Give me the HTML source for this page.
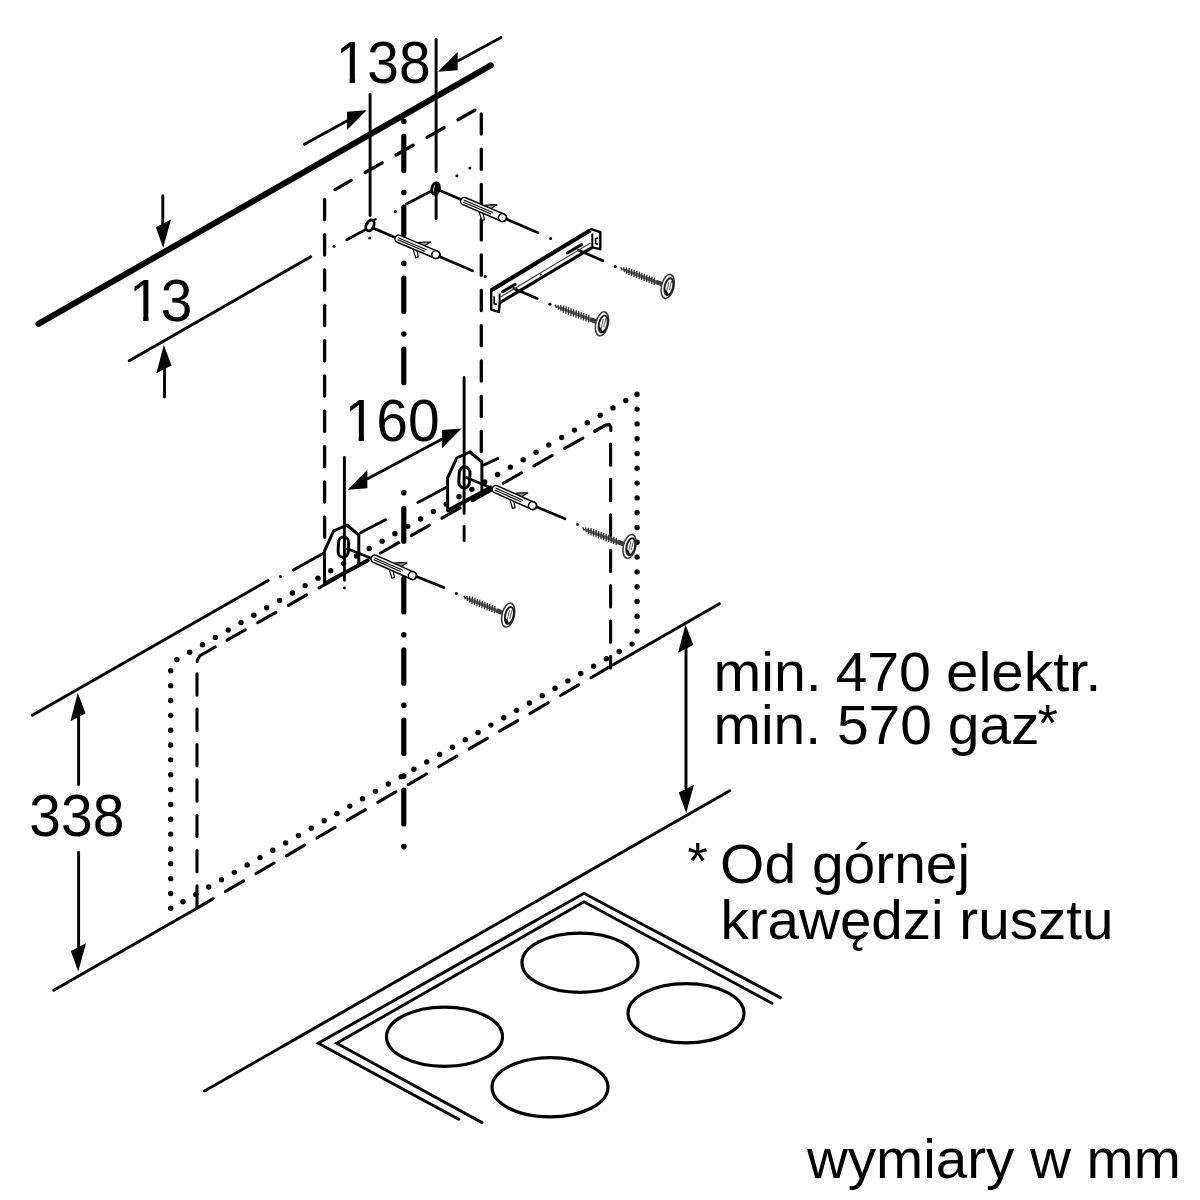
<!DOCTYPE html>
<html lang="pl"><head><meta charset="utf-8"><title>wymiary w mm</title>
<style>html,body{margin:0;padding:0;background:#fff}svg{display:block}text{font-family:"Liberation Sans",sans-serif;fill:#000}</style></head><body>
<svg width="1200" height="1200" viewBox="0 0 1200 1200">
<defs><filter id="soft" filterUnits="userSpaceOnUse" x="0" y="0" width="1200" height="1200"><feGaussianBlur stdDeviation="0.6"/></filter></defs>
<rect width="1200" height="1200" fill="#fff"/>
<g filter="url(#soft)">
<line x1="38.4" y1="323.8" x2="490.8" y2="65.3" stroke="#000" stroke-width="6" stroke-linecap="round"/>
<line x1="129.26" y1="360.78" x2="310.74" y2="256.72" stroke="#000" stroke-width="2.9" stroke-linecap="round"/>
<line x1="162.8" y1="195.8" x2="162.8" y2="226" stroke="#000" stroke-width="2.9" stroke-linecap="round"/>
<path d="M163.2 247.8 L155.8 227.3 L171 219.5 Z" fill="#000"/>
<line x1="164.5" y1="397" x2="164.5" y2="367" stroke="#000" stroke-width="2.9" stroke-linecap="round"/>
<path d="M163.8 344.9 L156.4 373.2 L171.6 365.4 Z" fill="#000"/>
<text transform="translate(160.8 320.6) scale(0.966 1)" font-size="59" text-anchor="middle">13</text>
<text transform="translate(383.1 83.4) scale(0.966 1)" font-size="59" text-anchor="middle">138</text>
<line x1="370.1" y1="94.25" x2="370.1" y2="215.55" stroke="#000" stroke-width="2.9" stroke-linecap="round"/>
<line x1="436.1" y1="39.25" x2="436.1" y2="171.55" stroke="#000" stroke-width="2.9" stroke-linecap="round"/>
<line x1="436.1" y1="193.45" x2="436.1" y2="218.55" stroke="#000" stroke-width="2.9" stroke-linecap="round"/>
<path d="M366.6 110.2 L347 111.68 L347 130.08 Z" fill="#000"/>
<line x1="304.43" y1="144.33" x2="346.77" y2="121.06" stroke="#000" stroke-width="2.8" stroke-linecap="round"/>
<path d="M438 71.8 L457.6 51.92 L457.6 70.32 Z" fill="#000"/>
<line x1="500.97" y1="37.57" x2="457.83" y2="60.95" stroke="#000" stroke-width="2.8" stroke-linecap="round"/>
<line x1="475.02" y1="110.14" x2="457.98" y2="119.81" stroke="#000" stroke-width="3.3" stroke-linecap="round"/>
<line x1="444.06" y1="127.71" x2="427.01" y2="137.38" stroke="#000" stroke-width="3.3" stroke-linecap="round"/>
<line x1="413.1" y1="145.28" x2="396.05" y2="154.95" stroke="#000" stroke-width="3.3" stroke-linecap="round"/>
<line x1="382.14" y1="162.85" x2="365.09" y2="172.52" stroke="#000" stroke-width="3.3" stroke-linecap="round"/>
<line x1="351.17" y1="180.42" x2="335" y2="189.6" stroke="#000" stroke-width="3.3" stroke-linecap="round"/>
<line x1="481.3" y1="113.8" x2="481.3" y2="134" stroke="#000" stroke-width="3.3" stroke-linecap="round"/>
<line x1="481.3" y1="149.1" x2="481.3" y2="169.3" stroke="#000" stroke-width="3.3" stroke-linecap="round"/>
<line x1="481.3" y1="184.4" x2="481.3" y2="204.6" stroke="#000" stroke-width="3.3" stroke-linecap="round"/>
<line x1="481.3" y1="219.7" x2="481.3" y2="239.9" stroke="#000" stroke-width="3.3" stroke-linecap="round"/>
<line x1="481.3" y1="255" x2="481.3" y2="275.2" stroke="#000" stroke-width="3.3" stroke-linecap="round"/>
<line x1="481.3" y1="290.3" x2="481.3" y2="310.5" stroke="#000" stroke-width="3.3" stroke-linecap="round"/>
<line x1="481.3" y1="325.6" x2="481.3" y2="345.8" stroke="#000" stroke-width="3.3" stroke-linecap="round"/>
<line x1="481.3" y1="360.9" x2="481.3" y2="381.1" stroke="#000" stroke-width="3.3" stroke-linecap="round"/>
<line x1="481.3" y1="396.2" x2="481.3" y2="416.4" stroke="#000" stroke-width="3.3" stroke-linecap="round"/>
<line x1="481.3" y1="431.5" x2="481.3" y2="451.5" stroke="#000" stroke-width="3.3" stroke-linecap="round"/>
<line x1="324.6" y1="199.4" x2="324.6" y2="219.6" stroke="#000" stroke-width="3.3" stroke-linecap="round"/>
<line x1="324.6" y1="234.7" x2="324.6" y2="254.9" stroke="#000" stroke-width="3.3" stroke-linecap="round"/>
<line x1="324.6" y1="270" x2="324.6" y2="290.2" stroke="#000" stroke-width="3.3" stroke-linecap="round"/>
<line x1="324.6" y1="305.3" x2="324.6" y2="325.5" stroke="#000" stroke-width="3.3" stroke-linecap="round"/>
<line x1="324.6" y1="340.6" x2="324.6" y2="360.8" stroke="#000" stroke-width="3.3" stroke-linecap="round"/>
<line x1="324.6" y1="375.9" x2="324.6" y2="396.1" stroke="#000" stroke-width="3.3" stroke-linecap="round"/>
<line x1="324.6" y1="411.2" x2="324.6" y2="431.4" stroke="#000" stroke-width="3.3" stroke-linecap="round"/>
<line x1="324.6" y1="446.5" x2="324.6" y2="466.7" stroke="#000" stroke-width="3.3" stroke-linecap="round"/>
<line x1="324.6" y1="481.8" x2="324.6" y2="502" stroke="#000" stroke-width="3.3" stroke-linecap="round"/>
<line x1="324.6" y1="517.1" x2="324.6" y2="537.3" stroke="#000" stroke-width="3.3" stroke-linecap="round"/>
<line x1="403.8" y1="136.4" x2="403.8" y2="170.6" stroke="#000" stroke-width="5.2" stroke-linecap="round"/>
<line x1="403.8" y1="207" x2="403.8" y2="234.4" stroke="#000" stroke-width="5.2" stroke-linecap="round"/>
<line x1="403.8" y1="278.1" x2="403.8" y2="311.4" stroke="#000" stroke-width="5.2" stroke-linecap="round"/>
<line x1="403.8" y1="349.2" x2="403.8" y2="382.7" stroke="#000" stroke-width="5.2" stroke-linecap="round"/>
<line x1="403.8" y1="508.6" x2="403.8" y2="541.2" stroke="#000" stroke-width="5.2" stroke-linecap="round"/>
<line x1="403.8" y1="578.4" x2="403.8" y2="611.9" stroke="#000" stroke-width="5.2" stroke-linecap="round"/>
<line x1="403.8" y1="649.8" x2="403.8" y2="683.2" stroke="#000" stroke-width="5.2" stroke-linecap="round"/>
<line x1="403.8" y1="720" x2="403.8" y2="753.5" stroke="#000" stroke-width="5.2" stroke-linecap="round"/>
<line x1="403.8" y1="790.2" x2="403.8" y2="824" stroke="#000" stroke-width="5.2" stroke-linecap="round"/>
<circle cx="403.8" cy="121.3" r="2.8" fill="#000"/>
<circle cx="403.8" cy="192.5" r="2.8" fill="#000"/>
<circle cx="403.8" cy="263.4" r="2.8" fill="#000"/>
<circle cx="403.8" cy="334" r="2.8" fill="#000"/>
<circle cx="403.8" cy="492.7" r="2.8" fill="#000"/>
<circle cx="403.8" cy="634.8" r="2.8" fill="#000"/>
<circle cx="403.8" cy="705.3" r="2.8" fill="#000"/>
<circle cx="403.8" cy="776.1" r="2.8" fill="#000"/>
<circle cx="403.8" cy="846.6" r="2.8" fill="#000"/>
<text transform="translate(713.5 691.2) scale(1.036 1)" font-size="55.3" xml:space="preserve"><tspan x="0">min. </tspan><tspan x="117.66">470 </tspan><tspan x="224.42" textLength="150.1" lengthAdjust="spacingAndGlyphs">elektr.</tspan></text>
<text transform="translate(713.5 743.9) scale(1.03 1)" font-size="55.3" xml:space="preserve"><tspan x="0">min. 570 gaz</tspan><tspan x="314.66" y="-3.2" font-size="50.88">*</tspan></text>
<text transform="translate(720.1 882.6) scale(1.03 1)" font-size="55.3" xml:space="preserve"><tspan x="-31.75" y="-4.1" font-size="50.88">* </tspan><tspan x="0" y="0">Od górnej</tspan></text>
<text transform="translate(720.5 939) scale(1.023 1)" font-size="55.3" text-anchor="start">krawędzi rusztu</text>
<text transform="translate(807 1178.4) scale(1.023 1)" font-size="55.3" text-anchor="start">wymiary w mm</text>
<text transform="translate(76.9 835.5) scale(0.966 1)" font-size="59" text-anchor="middle">338</text>
<line x1="32.26" y1="715.28" x2="268.14" y2="580.52" stroke="#000" stroke-width="2.9" stroke-linecap="round"/>
<line x1="53.76" y1="990.28" x2="197.34" y2="907.92" stroke="#000" stroke-width="2.9" stroke-linecap="round"/>
<line x1="78.6" y1="784.55" x2="78.6" y2="717.45" stroke="#000" stroke-width="2.9" stroke-linecap="round"/>
<path d="M77.8 693 L70.4 721.3 L85.6 713.5 Z" fill="#000"/>
<line x1="78.6" y1="852.45" x2="78.6" y2="946.55" stroke="#000" stroke-width="2.9" stroke-linecap="round"/>
<path d="M78.2 971.6 L70.8 951.1 L86 943.3 Z" fill="#000"/>
<line x1="719.44" y1="603.72" x2="612.76" y2="664.98" stroke="#000" stroke-width="2.9" stroke-linecap="round"/>
<line x1="729.74" y1="790.72" x2="204.56" y2="1090.98" stroke="#000" stroke-width="2.9" stroke-linecap="round"/>
<line x1="686" y1="647.45" x2="686" y2="788.55" stroke="#000" stroke-width="2.9" stroke-linecap="round"/>
<path d="M685.5 624.4 L678.1 652.7 L693.3 644.9 Z" fill="#000"/>
<path d="M686.2 813 L678.8 792.5 L694 784.7 Z" fill="#000"/>
<circle cx="637" cy="394.3" r="2.7" fill="#000"/>
<circle cx="625.8" cy="400.5" r="2.7" fill="#000"/>
<circle cx="612.97" cy="407.9" r="2.7" fill="#000"/>
<circle cx="600.15" cy="415.31" r="2.7" fill="#000"/>
<circle cx="587.32" cy="422.71" r="2.7" fill="#000"/>
<circle cx="574.5" cy="430.11" r="2.7" fill="#000"/>
<circle cx="561.67" cy="437.51" r="2.7" fill="#000"/>
<circle cx="548.84" cy="444.92" r="2.7" fill="#000"/>
<circle cx="536.02" cy="452.32" r="2.7" fill="#000"/>
<circle cx="523.19" cy="459.72" r="2.7" fill="#000"/>
<circle cx="510.37" cy="467.13" r="2.7" fill="#000"/>
<circle cx="497.54" cy="474.53" r="2.7" fill="#000"/>
<circle cx="484.71" cy="481.93" r="2.7" fill="#000"/>
<circle cx="471.89" cy="489.34" r="2.7" fill="#000"/>
<circle cx="459.06" cy="496.74" r="2.7" fill="#000"/>
<circle cx="446.24" cy="504.14" r="2.7" fill="#000"/>
<circle cx="433.41" cy="511.54" r="2.7" fill="#000"/>
<circle cx="420.58" cy="518.95" r="2.7" fill="#000"/>
<circle cx="407.76" cy="526.35" r="2.7" fill="#000"/>
<circle cx="394.93" cy="533.75" r="2.7" fill="#000"/>
<circle cx="382.11" cy="541.16" r="2.7" fill="#000"/>
<circle cx="369.28" cy="548.56" r="2.7" fill="#000"/>
<circle cx="356.45" cy="555.96" r="2.7" fill="#000"/>
<circle cx="343.63" cy="563.37" r="2.7" fill="#000"/>
<circle cx="330.8" cy="570.77" r="2.7" fill="#000"/>
<circle cx="317.98" cy="578.17" r="2.7" fill="#000"/>
<circle cx="305.15" cy="585.58" r="2.7" fill="#000"/>
<circle cx="292.32" cy="592.98" r="2.7" fill="#000"/>
<circle cx="279.5" cy="600.38" r="2.7" fill="#000"/>
<circle cx="266.67" cy="607.78" r="2.7" fill="#000"/>
<circle cx="253.85" cy="615.19" r="2.7" fill="#000"/>
<circle cx="241.02" cy="622.59" r="2.7" fill="#000"/>
<circle cx="228.19" cy="629.99" r="2.7" fill="#000"/>
<circle cx="215.37" cy="637.4" r="2.7" fill="#000"/>
<circle cx="202.54" cy="644.8" r="2.7" fill="#000"/>
<circle cx="189.72" cy="652.2" r="2.7" fill="#000"/>
<circle cx="176.89" cy="659.61" r="2.7" fill="#000"/>
<circle cx="170.7" cy="670.8" r="2.7" fill="#000"/>
<circle cx="170.7" cy="685.64" r="2.7" fill="#000"/>
<circle cx="170.7" cy="700.49" r="2.7" fill="#000"/>
<circle cx="170.7" cy="715.33" r="2.7" fill="#000"/>
<circle cx="170.7" cy="730.18" r="2.7" fill="#000"/>
<circle cx="170.7" cy="745.02" r="2.7" fill="#000"/>
<circle cx="170.7" cy="759.87" r="2.7" fill="#000"/>
<circle cx="170.7" cy="774.71" r="2.7" fill="#000"/>
<circle cx="170.7" cy="789.56" r="2.7" fill="#000"/>
<circle cx="170.7" cy="804.4" r="2.7" fill="#000"/>
<circle cx="170.7" cy="819.25" r="2.7" fill="#000"/>
<circle cx="170.7" cy="834.1" r="2.7" fill="#000"/>
<circle cx="170.7" cy="848.94" r="2.7" fill="#000"/>
<circle cx="170.7" cy="863.78" r="2.7" fill="#000"/>
<circle cx="170.7" cy="878.63" r="2.7" fill="#000"/>
<circle cx="170.7" cy="893.47" r="2.7" fill="#000"/>
<circle cx="170.7" cy="908.32" r="2.7" fill="#000"/>
<circle cx="183" cy="901.8" r="2.7" fill="#000"/>
<circle cx="195.83" cy="894.44" r="2.7" fill="#000"/>
<circle cx="208.66" cy="887.07" r="2.7" fill="#000"/>
<circle cx="221.49" cy="879.71" r="2.7" fill="#000"/>
<circle cx="234.32" cy="872.35" r="2.7" fill="#000"/>
<circle cx="247.15" cy="864.98" r="2.7" fill="#000"/>
<circle cx="259.98" cy="857.62" r="2.7" fill="#000"/>
<circle cx="272.81" cy="850.26" r="2.7" fill="#000"/>
<circle cx="285.64" cy="842.9" r="2.7" fill="#000"/>
<circle cx="298.47" cy="835.53" r="2.7" fill="#000"/>
<circle cx="311.3" cy="828.17" r="2.7" fill="#000"/>
<circle cx="324.13" cy="820.81" r="2.7" fill="#000"/>
<circle cx="336.96" cy="813.44" r="2.7" fill="#000"/>
<circle cx="349.79" cy="806.08" r="2.7" fill="#000"/>
<circle cx="362.62" cy="798.72" r="2.7" fill="#000"/>
<circle cx="375.45" cy="791.35" r="2.7" fill="#000"/>
<circle cx="388.28" cy="783.99" r="2.7" fill="#000"/>
<circle cx="401.11" cy="776.63" r="2.7" fill="#000"/>
<circle cx="413.94" cy="769.27" r="2.7" fill="#000"/>
<circle cx="426.77" cy="761.9" r="2.7" fill="#000"/>
<circle cx="439.6" cy="754.54" r="2.7" fill="#000"/>
<circle cx="452.43" cy="747.18" r="2.7" fill="#000"/>
<circle cx="465.26" cy="739.81" r="2.7" fill="#000"/>
<circle cx="478.09" cy="732.45" r="2.7" fill="#000"/>
<circle cx="490.92" cy="725.09" r="2.7" fill="#000"/>
<circle cx="503.75" cy="717.72" r="2.7" fill="#000"/>
<circle cx="516.58" cy="710.36" r="2.7" fill="#000"/>
<circle cx="529.41" cy="703" r="2.7" fill="#000"/>
<circle cx="542.24" cy="695.64" r="2.7" fill="#000"/>
<circle cx="555.07" cy="688.27" r="2.7" fill="#000"/>
<circle cx="567.9" cy="680.91" r="2.7" fill="#000"/>
<circle cx="580.73" cy="673.55" r="2.7" fill="#000"/>
<circle cx="593.56" cy="666.18" r="2.7" fill="#000"/>
<circle cx="606.39" cy="658.82" r="2.7" fill="#000"/>
<circle cx="619.22" cy="651.46" r="2.7" fill="#000"/>
<circle cx="632.05" cy="644.09" r="2.7" fill="#000"/>
<circle cx="637.1" cy="409.1" r="2.7" fill="#000"/>
<circle cx="637.1" cy="423.9" r="2.7" fill="#000"/>
<circle cx="637.1" cy="438.7" r="2.7" fill="#000"/>
<circle cx="637.1" cy="453.5" r="2.7" fill="#000"/>
<circle cx="637.1" cy="468.3" r="2.7" fill="#000"/>
<circle cx="637.1" cy="483.1" r="2.7" fill="#000"/>
<circle cx="637.1" cy="497.9" r="2.7" fill="#000"/>
<circle cx="637.1" cy="512.7" r="2.7" fill="#000"/>
<circle cx="637.1" cy="527.5" r="2.7" fill="#000"/>
<circle cx="637.1" cy="542.3" r="2.7" fill="#000"/>
<circle cx="637.1" cy="557.1" r="2.7" fill="#000"/>
<circle cx="637.1" cy="571.9" r="2.7" fill="#000"/>
<circle cx="637.1" cy="586.7" r="2.7" fill="#000"/>
<circle cx="637.1" cy="601.5" r="2.7" fill="#000"/>
<circle cx="637.1" cy="616.3" r="2.7" fill="#000"/>
<circle cx="637.1" cy="631.1" r="2.7" fill="#000"/>
<line x1="197" y1="673.8" x2="197" y2="695.1" stroke="#000" stroke-width="3.1" stroke-linecap="round"/>
<line x1="197" y1="709.15" x2="197" y2="730.45" stroke="#000" stroke-width="3.1" stroke-linecap="round"/>
<line x1="197" y1="744.5" x2="197" y2="765.8" stroke="#000" stroke-width="3.1" stroke-linecap="round"/>
<line x1="197" y1="779.85" x2="197" y2="801.15" stroke="#000" stroke-width="3.1" stroke-linecap="round"/>
<line x1="197" y1="815.2" x2="197" y2="836.5" stroke="#000" stroke-width="3.1" stroke-linecap="round"/>
<line x1="197" y1="850.55" x2="197" y2="871.85" stroke="#000" stroke-width="3.1" stroke-linecap="round"/>
<line x1="197" y1="885.9" x2="197" y2="907.2" stroke="#000" stroke-width="3.1" stroke-linecap="round"/>
<path d="M197.2 661.6 L198 658.4 L200.3 655.5 L215.2 647" fill="none" stroke="#000" stroke-width="3.1" stroke-linejoin="round" stroke-linecap="round"/>
<line x1="227.02" y1="640.14" x2="245.2" y2="629.82" stroke="#000" stroke-width="3.1" stroke-linecap="round"/>
<line x1="257.72" y1="622.71" x2="275.89" y2="612.39" stroke="#000" stroke-width="3.1" stroke-linecap="round"/>
<line x1="288.41" y1="605.28" x2="306.59" y2="594.96" stroke="#000" stroke-width="3.1" stroke-linecap="round"/>
<line x1="319.11" y1="587.85" x2="337.28" y2="577.53" stroke="#000" stroke-width="3.1" stroke-linecap="round"/>
<line x1="349.81" y1="570.41" x2="367.98" y2="560.09" stroke="#000" stroke-width="3.1" stroke-linecap="round"/>
<line x1="380.5" y1="552.98" x2="398.68" y2="542.66" stroke="#000" stroke-width="3.1" stroke-linecap="round"/>
<line x1="411.2" y1="535.55" x2="429.37" y2="525.23" stroke="#000" stroke-width="3.1" stroke-linecap="round"/>
<line x1="441.89" y1="518.12" x2="460.07" y2="507.8" stroke="#000" stroke-width="3.1" stroke-linecap="round"/>
<line x1="472.59" y1="500.69" x2="490.76" y2="490.37" stroke="#000" stroke-width="3.1" stroke-linecap="round"/>
<line x1="503.29" y1="483.26" x2="521.46" y2="472.94" stroke="#000" stroke-width="3.1" stroke-linecap="round"/>
<line x1="533.98" y1="465.83" x2="552.16" y2="455.51" stroke="#000" stroke-width="3.1" stroke-linecap="round"/>
<line x1="564.68" y1="448.4" x2="582.85" y2="438.08" stroke="#000" stroke-width="3.1" stroke-linecap="round"/>
<line x1="595.37" y1="430.97" x2="605" y2="425.5" stroke="#000" stroke-width="3.1" stroke-linecap="round"/>
<path d="M594.6 431.3 L605.6 425 L609.4 424.6 L610.8 427.2 L610.8 430.5" fill="none" stroke="#000" stroke-width="3.1" stroke-linejoin="round" stroke-linecap="round"/>
<line x1="610.6" y1="444" x2="610.6" y2="465.3" stroke="#000" stroke-width="3.1" stroke-linecap="round"/>
<line x1="610.6" y1="479.4" x2="610.6" y2="500.7" stroke="#000" stroke-width="3.1" stroke-linecap="round"/>
<line x1="610.6" y1="514.8" x2="610.6" y2="536.1" stroke="#000" stroke-width="3.1" stroke-linecap="round"/>
<line x1="610.6" y1="550.2" x2="610.6" y2="571.5" stroke="#000" stroke-width="3.1" stroke-linecap="round"/>
<line x1="610.6" y1="585.6" x2="610.6" y2="606.9" stroke="#000" stroke-width="3.1" stroke-linecap="round"/>
<line x1="610.6" y1="621" x2="610.6" y2="642.3" stroke="#000" stroke-width="3.1" stroke-linecap="round"/>
<line x1="610.6" y1="656.4" x2="610.6" y2="668" stroke="#000" stroke-width="3.1" stroke-linecap="round"/>
<line x1="609.11" y1="667.11" x2="590.98" y2="677.72" stroke="#000" stroke-width="3.1" stroke-linecap="round"/>
<line x1="578.66" y1="684.92" x2="560.53" y2="695.53" stroke="#000" stroke-width="3.1" stroke-linecap="round"/>
<line x1="548.2" y1="702.73" x2="530.07" y2="713.34" stroke="#000" stroke-width="3.1" stroke-linecap="round"/>
<line x1="517.75" y1="720.54" x2="499.62" y2="731.15" stroke="#000" stroke-width="3.1" stroke-linecap="round"/>
<line x1="487.29" y1="738.35" x2="469.16" y2="748.96" stroke="#000" stroke-width="3.1" stroke-linecap="round"/>
<line x1="456.84" y1="756.16" x2="438.71" y2="766.77" stroke="#000" stroke-width="3.1" stroke-linecap="round"/>
<line x1="426.38" y1="773.97" x2="408.26" y2="784.58" stroke="#000" stroke-width="3.1" stroke-linecap="round"/>
<line x1="395.93" y1="791.78" x2="377.8" y2="802.39" stroke="#000" stroke-width="3.1" stroke-linecap="round"/>
<line x1="365.47" y1="809.59" x2="347.35" y2="820.2" stroke="#000" stroke-width="3.1" stroke-linecap="round"/>
<line x1="335.02" y1="827.4" x2="316.89" y2="838.01" stroke="#000" stroke-width="3.1" stroke-linecap="round"/>
<line x1="304.56" y1="845.21" x2="286.44" y2="855.82" stroke="#000" stroke-width="3.1" stroke-linecap="round"/>
<line x1="274.11" y1="863.02" x2="255.98" y2="873.63" stroke="#000" stroke-width="3.1" stroke-linecap="round"/>
<line x1="243.66" y1="880.83" x2="225.53" y2="891.44" stroke="#000" stroke-width="3.1" stroke-linecap="round"/>
<line x1="213.2" y1="898.64" x2="198.4" y2="907.3" stroke="#000" stroke-width="3.1" stroke-linecap="round"/>
<path d="M458.72 1119.31 L318.3 1043.3 L584 893.3 L780.42 997.62" fill="none" stroke="#000" stroke-width="2.9" stroke-linejoin="miter" stroke-linecap="round"/>
<path d="M482.03 1122.61 L336.7 1043.3 L584 901.8 L772.02 1003.31" fill="none" stroke="#000" stroke-width="2.9" stroke-linejoin="miter" stroke-linecap="round"/>
<ellipse cx="580" cy="962.7" rx="58" ry="29.6" fill="none" stroke="#000" stroke-width="3.2"/>
<ellipse cx="686" cy="1013.3" rx="58" ry="29.6" fill="none" stroke="#000" stroke-width="3.2"/>
<ellipse cx="444.5" cy="1036.7" rx="58" ry="29.6" fill="none" stroke="#000" stroke-width="3.2"/>
<ellipse cx="550" cy="1087.3" rx="58" ry="29.6" fill="none" stroke="#000" stroke-width="3.2"/>
<circle cx="334" cy="246.3" r="1.5" fill="#000"/>
<line x1="346.8" y1="239.8" x2="365.5" y2="229.6" stroke="#000" stroke-width="2.7" stroke-linecap="round"/>
<line x1="431.5" y1="191" x2="406.3" y2="204" stroke="#000" stroke-width="2.7" stroke-linecap="round"/>
<circle cx="395.3" cy="211.4" r="1.5" fill="#000"/>
<circle cx="456.9" cy="175.8" r="1.5" fill="#000"/>
<circle cx="469.8" cy="168.1" r="1.5" fill="#000"/>
<circle cx="369.7" cy="238.2" r="1.4" fill="#000"/>
<line x1="373" y1="227.9" x2="472.5" y2="270.74" stroke="#000" stroke-width="2.7" stroke-linecap="round"/>
<circle cx="485.2" cy="276.4" r="1.5" fill="#000"/>
<line x1="513.8" y1="288.4" x2="537.2" y2="298.6" stroke="#000" stroke-width="2.7" stroke-linecap="round"/>
<circle cx="549.9" cy="304.2" r="1.6" fill="#000"/>
<line x1="440" y1="190.6" x2="538" y2="232.8" stroke="#000" stroke-width="2.7" stroke-linecap="round"/>
<circle cx="550.6" cy="238.4" r="1.5" fill="#000"/>
<line x1="578.6" y1="250.2" x2="603" y2="260.8" stroke="#000" stroke-width="2.7" stroke-linecap="round"/>
<circle cx="615.4" cy="266.6" r="1.6" fill="#000"/>
<g transform="translate(370 225.4) rotate(26)">
<ellipse cx="0" cy="0" rx="3.7" ry="5.7" fill="#fff" stroke="#000" stroke-width="2.9"/>
</g>
<line x1="372.6" y1="220.4" x2="375.6" y2="219.2" stroke="#000" stroke-width="2.2" stroke-linecap="round"/>
<g transform="translate(435.6 188.6) rotate(12)">
<ellipse cx="0" cy="0" rx="3.7" ry="5.7" fill="#fff" stroke="#000" stroke-width="2.9"/>
<path d="M-0.4 -5.7 A3.7 5.7 0 0 1 -0.4 5.7 A0.93 5.7 0 0 1 -0.4 -5.7 Z" fill="#000"/>
</g>
<g transform="translate(395.2 237.4) rotate(22.92)">
<path d="M21.84 -3.2 L28.15 -6.9 L34.46 -9.6 L32.03 -6 L30.09 -3.2 Z" fill="#9c9c9c" stroke="#000" stroke-width="1.2" stroke-linejoin="round"/>
<path d="M20.38 3.2 L26.93 10.8 L28.88 9.0 L24.75 3.2 Z" fill="#fff" stroke="#000" stroke-width="1.2" stroke-linejoin="round"/>
<rect x="0" y="-3.75" width="48.53" height="7.5" rx="3.75" ry="3.75" fill="#fff" stroke="#000" stroke-width="1.5"/>
<line x1="3.5" y1="-0.9" x2="33" y2="-0.9" stroke="#000" stroke-width="1.1" stroke-linecap="round"/>
<line x1="3.5" y1="1.2" x2="32.03" y2="1.2" stroke="#000" stroke-width="1.1" stroke-linecap="round"/>
<circle cx="44.03" cy="0" r="3.9" fill="#fff" stroke="#000" stroke-width="1.5"/>
</g>
<g transform="translate(460.8 199.7) rotate(23.21)">
<path d="M22.38 -3.2 L28.84 -6.9 L35.31 -9.6 L32.82 -6 L30.83 -3.2 Z" fill="#9c9c9c" stroke="#000" stroke-width="1.2" stroke-linejoin="round"/>
<path d="M20.88 3.2 L27.6 10.8 L29.59 9.0 L25.36 3.2 Z" fill="#fff" stroke="#000" stroke-width="1.2" stroke-linejoin="round"/>
<rect x="0" y="-3.75" width="49.73" height="7.5" rx="3.75" ry="3.75" fill="#fff" stroke="#000" stroke-width="1.5"/>
<line x1="3.5" y1="-0.9" x2="33.81" y2="-0.9" stroke="#000" stroke-width="1.1" stroke-linecap="round"/>
<line x1="3.5" y1="1.2" x2="32.82" y2="1.2" stroke="#000" stroke-width="1.1" stroke-linecap="round"/>
<circle cx="45.23" cy="0" r="3.9" fill="#fff" stroke="#000" stroke-width="1.5"/>
</g>
<path d="M491.3 290.2 L590.4 230.2" fill="none" stroke="#000" stroke-width="4.2" stroke-linejoin="miter" stroke-linecap="butt"/>
<path d="M491.2 288.5 L491.2 309.6 L498.8 311.8 L499.8 302.6" fill="none" stroke="#000" stroke-width="2.4" stroke-linejoin="round" stroke-linecap="butt"/>
<path d="M499.8 302.6 L592.3 247.4" fill="none" stroke="#000" stroke-width="3.2" stroke-linejoin="miter" stroke-linecap="butt"/>
<path d="M592.3 247.4 L600.3 249.2 L600.3 232.2 L590.2 228.8" fill="none" stroke="#000" stroke-width="2.4" stroke-linejoin="round" stroke-linecap="butt"/>
<path d="M499.6 303.2 L499.6 293.5" fill="none" stroke="#000" stroke-width="2" stroke-linejoin="miter" stroke-linecap="butt"/>
<path d="M592.3 247.8 L592.3 233.5" fill="none" stroke="#000" stroke-width="2" stroke-linejoin="miter" stroke-linecap="butt"/>
<path d="M500.5 297 L590.5 243" fill="none" stroke="#444" stroke-width="1.1" stroke-linejoin="miter" stroke-linecap="butt"/>
<path d="M502.5 291.8 L515.2 284.4" fill="none" stroke="#000" stroke-width="3" stroke-linejoin="miter" stroke-linecap="round"/>
<path d="M567.2 253 L581.6 244.6" fill="none" stroke="#000" stroke-width="3" stroke-linejoin="miter" stroke-linecap="round"/>
<path d="M494.2 296.2 L494.2 303.8 L496.8 304.4" fill="none" stroke="#000" stroke-width="1.6" stroke-linejoin="miter" stroke-linecap="butt"/>
<path d="M598 238 L595.6 238.6 L595.6 243.6 L598 244.2" fill="none" stroke="#000" stroke-width="1.6" stroke-linejoin="miter" stroke-linecap="butt"/>
<circle cx="540.8" cy="274.6" r="1" fill="#000"/>
<g transform="translate(619.7 268) rotate(20.97)">
<path d="M0 0 L9 -1.6 L45.91 -1.8 L45.91 1.8 L9 1.6 Z" fill="#666" stroke="none"/>
<line x1="0.8" y1="-1.42" x2="3.2" y2="1.42" stroke="#2a2a2a" stroke-width="1.25"/>
<line x1="3.5" y1="-2.12" x2="5.9" y2="2.12" stroke="#2a2a2a" stroke-width="1.25"/>
<line x1="6.2" y1="-2.82" x2="8.6" y2="2.82" stroke="#2a2a2a" stroke-width="1.25"/>
<line x1="8.9" y1="-3.5" x2="11.3" y2="3.5" stroke="#2a2a2a" stroke-width="1.25"/>
<line x1="11.6" y1="-3.5" x2="14" y2="3.5" stroke="#2a2a2a" stroke-width="1.25"/>
<line x1="14.3" y1="-3.5" x2="16.7" y2="3.5" stroke="#2a2a2a" stroke-width="1.25"/>
<line x1="17" y1="-3.5" x2="19.4" y2="3.5" stroke="#2a2a2a" stroke-width="1.25"/>
<line x1="19.7" y1="-3.5" x2="22.1" y2="3.5" stroke="#2a2a2a" stroke-width="1.25"/>
<line x1="22.4" y1="-3.5" x2="24.8" y2="3.5" stroke="#2a2a2a" stroke-width="1.25"/>
<line x1="25.1" y1="-3.5" x2="27.5" y2="3.5" stroke="#2a2a2a" stroke-width="1.25"/>
<line x1="27.8" y1="-3.5" x2="30.2" y2="3.5" stroke="#2a2a2a" stroke-width="1.25"/>
<line x1="30.5" y1="-3.5" x2="32.9" y2="3.5" stroke="#2a2a2a" stroke-width="1.25"/>
<line x1="33.2" y1="-3.5" x2="35.6" y2="3.5" stroke="#2a2a2a" stroke-width="1.25"/>
<line x1="35.9" y1="-3.5" x2="38.3" y2="3.5" stroke="#2a2a2a" stroke-width="1.25"/>
<rect x="38.91" y="-2.3" width="7" height="4.6" fill="#3a3a3a"/>
</g>
<g transform="translate(667.7 286.4) rotate(13)">
<ellipse cx="0" cy="0" rx="6.2" ry="12.2" fill="#fff" stroke="#3a3a3a" stroke-width="1.5"/>
<ellipse cx="1.2" cy="0" rx="4.2" ry="8.6" fill="#fff" stroke="#1a1a1a" stroke-width="1.9"/>
<path d="M-2.6 3 L-0.6 8.2 L2.4 7.6 L0.2 4.4 Z" fill="#111"/>
<path d="M0.2 -5 L0.2 4.4 M2.6 -6.4 L2.4 3" stroke="#555" stroke-width="0.9" fill="none"/>
</g>
<g transform="translate(554 305.5) rotate(20.87)">
<path d="M0 0 L9 -1.6 L45.87 -1.8 L45.87 1.8 L9 1.6 Z" fill="#666" stroke="none"/>
<line x1="0.8" y1="-1.42" x2="3.2" y2="1.42" stroke="#2a2a2a" stroke-width="1.25"/>
<line x1="3.5" y1="-2.12" x2="5.9" y2="2.12" stroke="#2a2a2a" stroke-width="1.25"/>
<line x1="6.2" y1="-2.82" x2="8.6" y2="2.82" stroke="#2a2a2a" stroke-width="1.25"/>
<line x1="8.9" y1="-3.5" x2="11.3" y2="3.5" stroke="#2a2a2a" stroke-width="1.25"/>
<line x1="11.6" y1="-3.5" x2="14" y2="3.5" stroke="#2a2a2a" stroke-width="1.25"/>
<line x1="14.3" y1="-3.5" x2="16.7" y2="3.5" stroke="#2a2a2a" stroke-width="1.25"/>
<line x1="17" y1="-3.5" x2="19.4" y2="3.5" stroke="#2a2a2a" stroke-width="1.25"/>
<line x1="19.7" y1="-3.5" x2="22.1" y2="3.5" stroke="#2a2a2a" stroke-width="1.25"/>
<line x1="22.4" y1="-3.5" x2="24.8" y2="3.5" stroke="#2a2a2a" stroke-width="1.25"/>
<line x1="25.1" y1="-3.5" x2="27.5" y2="3.5" stroke="#2a2a2a" stroke-width="1.25"/>
<line x1="27.8" y1="-3.5" x2="30.2" y2="3.5" stroke="#2a2a2a" stroke-width="1.25"/>
<line x1="30.5" y1="-3.5" x2="32.9" y2="3.5" stroke="#2a2a2a" stroke-width="1.25"/>
<line x1="33.2" y1="-3.5" x2="35.6" y2="3.5" stroke="#2a2a2a" stroke-width="1.25"/>
<line x1="35.9" y1="-3.5" x2="38.3" y2="3.5" stroke="#2a2a2a" stroke-width="1.25"/>
<rect x="38.87" y="-2.3" width="7" height="4.6" fill="#3a3a3a"/>
</g>
<g transform="translate(602 323.8) rotate(13)">
<ellipse cx="0" cy="0" rx="6.2" ry="12.2" fill="#fff" stroke="#3a3a3a" stroke-width="1.5"/>
<ellipse cx="1.2" cy="0" rx="4.2" ry="8.6" fill="#fff" stroke="#1a1a1a" stroke-width="1.9"/>
<path d="M-2.6 3 L-0.6 8.2 L2.4 7.6 L0.2 4.4 Z" fill="#111"/>
<path d="M0.2 -5 L0.2 4.4 M2.6 -6.4 L2.4 3" stroke="#555" stroke-width="0.9" fill="none"/>
</g>
<text transform="translate(392.1 441) scale(0.966 1)" font-size="59" text-anchor="middle">160</text>
<circle cx="344.4" cy="588" r="1.4" fill="#000"/>
<line x1="464.1" y1="526.45" x2="464.1" y2="540.55" stroke="#000" stroke-width="2.9" stroke-linecap="round"/>
<path d="M347.8 489.7 L367.4 469.82 L367.4 488.22 Z" fill="#000"/>
<path d="M461.6 428.4 L442 429.88 L442 448.28 Z" fill="#000"/>
<line x1="367.68" y1="478.83" x2="441.72" y2="439.27" stroke="#000" stroke-width="2.9" stroke-linecap="round"/>
<circle cx="280.4" cy="576.6" r="1.5" fill="#000"/>
<line x1="293.27" y1="569.9" x2="323.53" y2="553.3" stroke="#000" stroke-width="2.9" stroke-linecap="round"/>
<line x1="360.49" y1="532.73" x2="385.51" y2="519.67" stroke="#000" stroke-width="2.9" stroke-linecap="round"/>
<line x1="417.88" y1="502.52" x2="446.52" y2="487.28" stroke="#000" stroke-width="2.9" stroke-linecap="round"/>
<line x1="483.12" y1="465.2" x2="497.68" y2="458.6" stroke="#000" stroke-width="2.9" stroke-linecap="round"/>
<path d="M324.6 582.6 L324.4 551.2 L333.6 531 L346.8 525 L358.8 535 L358.8 564.6" fill="none" stroke="#000" stroke-width="3" stroke-linejoin="round" stroke-linecap="round"/>
<path d="M324.9 583.4 L367.6 560.6" fill="none" stroke="#000" stroke-width="4" stroke-linejoin="miter" stroke-linecap="round"/>
<g transform="translate(343.4 547.2) rotate(3)"><rect x="-5.1" y="-10.1" width="10.2" height="20.2" rx="5.1" ry="5.86" fill="none" stroke="#000" stroke-width="3.0"/></g>
<path d="M447.7 509.6 L447.5 478.2 L456.7 458 L469.9 452 L481.9 462 L481.9 491.6" fill="none" stroke="#000" stroke-width="3" stroke-linejoin="round" stroke-linecap="round"/>
<path d="M448 510.4 L490.7 487.6" fill="none" stroke="#000" stroke-width="4" stroke-linejoin="miter" stroke-linecap="round"/>
<g transform="translate(464.4 477.4) rotate(3)"><rect x="-5.4" y="-10.6" width="10.8" height="21.2" rx="5.4" ry="6.21" fill="none" stroke="#000" stroke-width="3.0"/></g>
<line x1="344.4" y1="457.45" x2="344.4" y2="580.35" stroke="#000" stroke-width="2.9" stroke-linecap="round"/>
<line x1="464.1" y1="377.45" x2="464.1" y2="513.55" stroke="#000" stroke-width="2.9" stroke-linecap="round"/>
<line x1="347.5" y1="548.8" x2="443.8" y2="587.57" stroke="#000" stroke-width="2.7" stroke-linecap="round"/>
<circle cx="456.3" cy="593.4" r="1.5" fill="#000"/>
<line x1="466.3" y1="477.5" x2="565" y2="518.76" stroke="#000" stroke-width="2.7" stroke-linecap="round"/>
<circle cx="577.5" cy="524.4" r="1.5" fill="#000"/>
<g transform="translate(371.3 557.3) rotate(23.92)">
<path d="M22.2 -3.2 L28.61 -6.9 L35.03 -9.6 L32.56 -6 L30.59 -3.2 Z" fill="#9c9c9c" stroke="#000" stroke-width="1.2" stroke-linejoin="round"/>
<path d="M20.72 3.2 L27.38 10.8 L29.35 9.0 L25.16 3.2 Z" fill="#fff" stroke="#000" stroke-width="1.2" stroke-linejoin="round"/>
<rect x="0" y="-3.75" width="49.34" height="7.5" rx="3.75" ry="3.75" fill="#fff" stroke="#000" stroke-width="1.5"/>
<line x1="3.5" y1="-0.9" x2="33.55" y2="-0.9" stroke="#000" stroke-width="1.1" stroke-linecap="round"/>
<line x1="3.5" y1="1.2" x2="32.56" y2="1.2" stroke="#000" stroke-width="1.1" stroke-linecap="round"/>
<circle cx="44.84" cy="0" r="3.9" fill="#fff" stroke="#000" stroke-width="1.5"/>
</g>
<g transform="translate(492.5 487.7) rotate(24.12)">
<path d="M21.69 -3.2 L27.96 -6.9 L34.23 -9.6 L31.82 -6 L29.89 -3.2 Z" fill="#9c9c9c" stroke="#000" stroke-width="1.2" stroke-linejoin="round"/>
<path d="M20.25 3.2 L26.76 10.8 L28.68 9.0 L24.59 3.2 Z" fill="#fff" stroke="#000" stroke-width="1.2" stroke-linejoin="round"/>
<rect x="0" y="-3.75" width="48.21" height="7.5" rx="3.75" ry="3.75" fill="#fff" stroke="#000" stroke-width="1.5"/>
<line x1="3.5" y1="-0.9" x2="32.78" y2="-0.9" stroke="#000" stroke-width="1.1" stroke-linecap="round"/>
<line x1="3.5" y1="1.2" x2="31.82" y2="1.2" stroke="#000" stroke-width="1.1" stroke-linecap="round"/>
<circle cx="43.71" cy="0" r="3.9" fill="#fff" stroke="#000" stroke-width="1.5"/>
</g>
<g transform="translate(462.8 596.6) rotate(22.28)">
<path d="M0 0 L9 -1.6 L43.56 -1.8 L43.56 1.8 L9 1.6 Z" fill="#666" stroke="none"/>
<line x1="0.8" y1="-1.42" x2="3.2" y2="1.42" stroke="#2a2a2a" stroke-width="1.25"/>
<line x1="3.5" y1="-2.12" x2="5.9" y2="2.12" stroke="#2a2a2a" stroke-width="1.25"/>
<line x1="6.2" y1="-2.82" x2="8.6" y2="2.82" stroke="#2a2a2a" stroke-width="1.25"/>
<line x1="8.9" y1="-3.5" x2="11.3" y2="3.5" stroke="#2a2a2a" stroke-width="1.25"/>
<line x1="11.6" y1="-3.5" x2="14" y2="3.5" stroke="#2a2a2a" stroke-width="1.25"/>
<line x1="14.3" y1="-3.5" x2="16.7" y2="3.5" stroke="#2a2a2a" stroke-width="1.25"/>
<line x1="17" y1="-3.5" x2="19.4" y2="3.5" stroke="#2a2a2a" stroke-width="1.25"/>
<line x1="19.7" y1="-3.5" x2="22.1" y2="3.5" stroke="#2a2a2a" stroke-width="1.25"/>
<line x1="22.4" y1="-3.5" x2="24.8" y2="3.5" stroke="#2a2a2a" stroke-width="1.25"/>
<line x1="25.1" y1="-3.5" x2="27.5" y2="3.5" stroke="#2a2a2a" stroke-width="1.25"/>
<line x1="27.8" y1="-3.5" x2="30.2" y2="3.5" stroke="#2a2a2a" stroke-width="1.25"/>
<line x1="30.5" y1="-3.5" x2="32.9" y2="3.5" stroke="#2a2a2a" stroke-width="1.25"/>
<line x1="33.2" y1="-3.5" x2="35.6" y2="3.5" stroke="#2a2a2a" stroke-width="1.25"/>
<rect x="36.56" y="-2.3" width="7" height="4.6" fill="#3a3a3a"/>
</g>
<g transform="translate(508.2 615.2) rotate(13)">
<ellipse cx="0" cy="0" rx="6.2" ry="12.2" fill="#fff" stroke="#3a3a3a" stroke-width="1.5"/>
<ellipse cx="1.2" cy="0" rx="4.2" ry="8.6" fill="#fff" stroke="#1a1a1a" stroke-width="1.9"/>
<path d="M-2.6 3 L-0.6 8.2 L2.4 7.6 L0.2 4.4 Z" fill="#111"/>
<path d="M0.2 -5 L0.2 4.4 M2.6 -6.4 L2.4 3" stroke="#555" stroke-width="0.9" fill="none"/>
</g>
<g transform="translate(581.6 528.2) rotate(20.77)">
<path d="M0 0 L9 -1.6 L45.83 -1.8 L45.83 1.8 L9 1.6 Z" fill="#666" stroke="none"/>
<line x1="0.8" y1="-1.42" x2="3.2" y2="1.42" stroke="#2a2a2a" stroke-width="1.25"/>
<line x1="3.5" y1="-2.12" x2="5.9" y2="2.12" stroke="#2a2a2a" stroke-width="1.25"/>
<line x1="6.2" y1="-2.82" x2="8.6" y2="2.82" stroke="#2a2a2a" stroke-width="1.25"/>
<line x1="8.9" y1="-3.5" x2="11.3" y2="3.5" stroke="#2a2a2a" stroke-width="1.25"/>
<line x1="11.6" y1="-3.5" x2="14" y2="3.5" stroke="#2a2a2a" stroke-width="1.25"/>
<line x1="14.3" y1="-3.5" x2="16.7" y2="3.5" stroke="#2a2a2a" stroke-width="1.25"/>
<line x1="17" y1="-3.5" x2="19.4" y2="3.5" stroke="#2a2a2a" stroke-width="1.25"/>
<line x1="19.7" y1="-3.5" x2="22.1" y2="3.5" stroke="#2a2a2a" stroke-width="1.25"/>
<line x1="22.4" y1="-3.5" x2="24.8" y2="3.5" stroke="#2a2a2a" stroke-width="1.25"/>
<line x1="25.1" y1="-3.5" x2="27.5" y2="3.5" stroke="#2a2a2a" stroke-width="1.25"/>
<line x1="27.8" y1="-3.5" x2="30.2" y2="3.5" stroke="#2a2a2a" stroke-width="1.25"/>
<line x1="30.5" y1="-3.5" x2="32.9" y2="3.5" stroke="#2a2a2a" stroke-width="1.25"/>
<line x1="33.2" y1="-3.5" x2="35.6" y2="3.5" stroke="#2a2a2a" stroke-width="1.25"/>
<line x1="35.9" y1="-3.5" x2="38.3" y2="3.5" stroke="#2a2a2a" stroke-width="1.25"/>
<rect x="38.83" y="-2.3" width="7" height="4.6" fill="#3a3a3a"/>
</g>
<g transform="translate(629.6 546.4) rotate(13)">
<ellipse cx="0" cy="0" rx="6.2" ry="12.2" fill="#fff" stroke="#3a3a3a" stroke-width="1.5"/>
<ellipse cx="1.2" cy="0" rx="4.2" ry="8.6" fill="#fff" stroke="#1a1a1a" stroke-width="1.9"/>
<path d="M-2.6 3 L-0.6 8.2 L2.4 7.6 L0.2 4.4 Z" fill="#111"/>
<path d="M0.2 -5 L0.2 4.4 M2.6 -6.4 L2.4 3" stroke="#555" stroke-width="0.9" fill="none"/>
</g>
<rect x="132.4" y="314.4" width="10.8" height="7.4" fill="#fff"/>
<rect x="148.5" y="314.4" width="10.3" height="7.4" fill="#fff"/>
<rect x="338.8" y="77.2" width="10.85" height="7.4" fill="#fff"/>
<rect x="355" y="77.2" width="10.4" height="7.4" fill="#fff"/>
<rect x="347.8" y="434.8" width="10.85" height="7.4" fill="#fff"/>
<rect x="364" y="434.8" width="10.4" height="7.4" fill="#fff"/>
</g>
</svg></body></html>
